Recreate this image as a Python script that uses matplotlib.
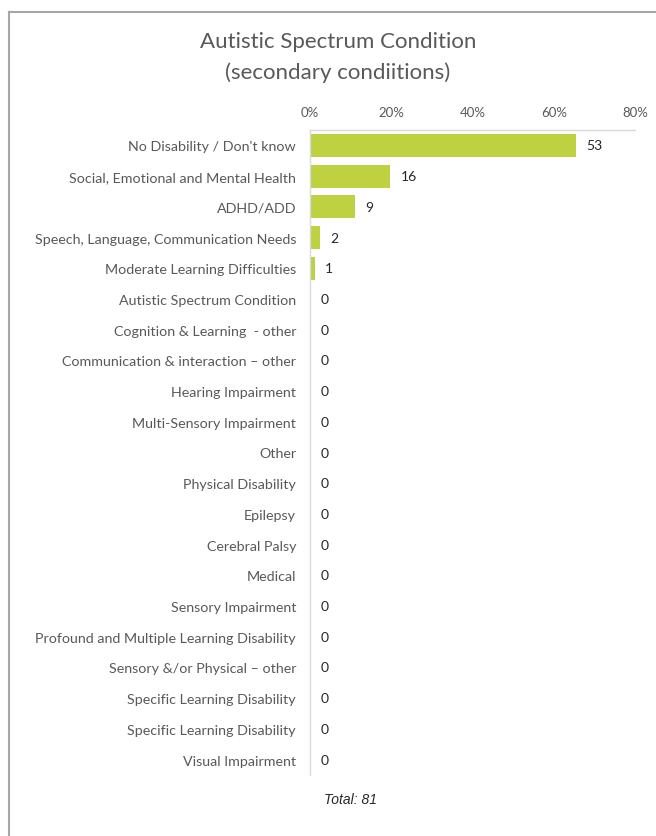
import matplotlib
matplotlib.use("Agg")
import matplotlib.pyplot as plt
from matplotlib.ticker import PercentFormatter
from matplotlib.lines import Line2D

# secondary conditions, counts out of the total
categories = [
    "No Disability / Don't know",
    "Social, Emotional and Mental Health",
    "ADHD/ADD",
    "Speech, Language, Communication Needs",
    "Moderate Learning Difficulties",
    "Autistic Spectrum Condition",
    "Cognition & Learning  - other",
    "Communication & interaction \u2013 other",
    "Hearing Impairment",
    "Multi-Sensory Impairment",
    "Other",
    "Physical Disability",
    "Epilepsy",
    "Cerebral Palsy",
    "Medical",
    "Sensory Impairment",
    "Profound and Multiple Learning Disability",
    "Sensory &/or Physical \u2013 other",
    "Specific Learning Disability",
    "Specific Learning Disability",
    "Visual Impairment",
]
counts = [53, 16, 9, 2, 1, 0, 0, 0, 0, 0, 0, 0, 0, 0, 0, 0, 0, 0, 0, 0, 0]
total = 81
tick_values = [0, 0.2, 0.4, 0.6, 0.8]

plt.rcParams['font.family'] = ['Lato', 'DejaVu Sans']
grey = "#595959"

fig = plt.figure(figsize=(6.56, 8.37), dpi=100)
ax = fig.add_axes([310 / 656, 1 - 776 / 837, 325 / 656, 645 / 837])

shares = [c / total for c in counts]
ypos = list(range(len(categories)))
ax.barh(ypos, shares, height=0.75, color="#bed140")
for y, s, c in zip(ypos, shares, counts):
    ax.text(s + 0.025, y, str(c), va="center", ha="left", fontsize=10, color="#262626")

ax.set_ylim(len(categories) - 0.5, -0.5)
ax.set_yticks(ypos)
ax.set_yticklabels(categories, fontsize=10.3, color=grey)
ax.set_xlim(0, 0.8)
ax.set_xticks(tick_values)
ax.xaxis.set_major_formatter(PercentFormatter(1.0, decimals=0))
ax.xaxis.tick_top()
ax.tick_params(axis="x", length=0, labelsize=9.5, labelcolor=grey, pad=9)
ax.tick_params(axis="y", length=0, pad=10)

for side in ["right", "bottom"]:
    ax.spines[side].set_visible(False)
for side in ["top", "left"]:
    ax.spines[side].set_color("#d9d9d9")
    ax.spines[side].set_linewidth(1)

fig.text(338 / 656, 1 - 42 / 837, "Autistic Spectrum Condition", ha="center", va="center",
         fontsize=16, color=grey)
fig.text(338 / 656, 1 - 73 / 837, "(secondary condiitions)", ha="center", va="center",
         fontsize=16, color=grey)
fig.text(350 / 656, 1 - 800 / 837, "Total: 81", ha="center", va="center",
         fontsize=10, style="italic", color="#262626", family="Liberation Sans")

# outer frame, left and top edges only
fig.add_artist(Line2D([8.5 / 656, 8.5 / 656], [0, 1 - 13 / 837], transform=fig.transFigure,
                      color="#a6a6a6", lw=1.5))
fig.add_artist(Line2D([8.5 / 656, 1], [1 - 13 / 837, 1 - 13 / 837], transform=fig.transFigure,
                      color="#a6a6a6", lw=1.5))

fig.savefig("out.png", dpi=100)
